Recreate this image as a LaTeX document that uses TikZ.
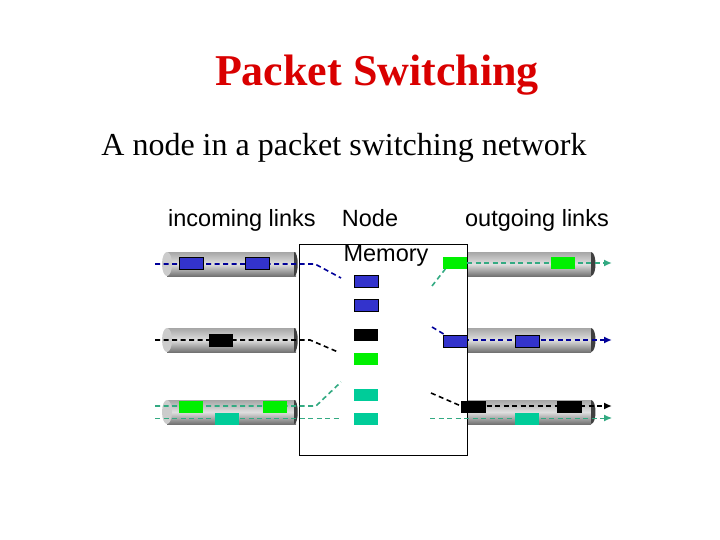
\documentclass[tikz,border=0pt]{standalone}
\usepackage{fontspec}
\setmainfont{Liberation Serif}
\newfontfamily\sansf{Liberation Sans}
\usetikzlibrary{arrows.meta}
\definecolor{pblue}{RGB}{51,51,204}
\definecolor{pgreen}{RGB}{0,240,0}
\definecolor{pteal}{RGB}{0,204,153}
\definecolor{lblue}{RGB}{0,0,153}
\definecolor{lteal}{RGB}{51,170,130}
\begin{document}
\begin{tikzpicture}[x=1pt,y=-1pt,
  cyl/.style={top color=gray!70, bottom color=gray!90!black, middle color=gray!25, draw=none},
  pk/.style={draw=black, line width=0.6pt},
  ln/.style={dashed, line width=1.6pt, dash pattern=on 5pt off 3.5pt},
  arr/.style={ln,-{Latex[length=8pt,width=7pt]}},
  lbl/.style={font=\sansf\fontsize{23.5}{26}\selectfont, inner sep=0}]
\useasboundingbox (0,0) rectangle (720,540);
\node[font=\bfseries\fontsize{44}{46}\selectfont, text=red!85!black] (title) at (377,75) {Packet Switching};
\node[font=\fontsize{32}{34}\selectfont] (sub) at (344,148) {A node in a packet switching network};
\node[lbl] (inc) at (242,220) {incoming links};
\node[lbl] (nd) at (370,218) {Node};
\node[lbl] (out) at (537,220) {outgoing links};
% cylinders
\foreach \y in {252,328,400}{
  \shade[cyl] (167,\y) rectangle (296,\y+24);
  \fill[gray!40] (167,\y+12) ellipse (5 and 12);
  \fill[gray!50!black] (294,\y) .. controls (299,\y) and (299,\y+24) .. (294,\y+24) -- cycle;
}
\foreach \y in {252,328,400}{
  \shade[cyl] (467,\y) rectangle (591,\y+24);
  \fill[gray!50!black] (591,\y) .. controls (597,\y) and (597,\y+24) .. (591,\y+24) -- cycle;
}
% node box
\node[draw, line width=0.8pt, minimum width=168, minimum height=211, anchor=north west, inner sep=0] (box) at (299,244) {};
\node[lbl] (mem) at (386,256) {Memory};
% left lines
\coordinate (b1) at (155,264); \coordinate (b2) at (315,264); \coordinate (b3) at (341,278);
\draw[ln,lblue] (b1) -- (b2) -- (b3);
\coordinate (k1) at (155,340); \coordinate (k2) at (310,340); \coordinate (k3) at (338,352);
\draw[ln,black] (k1) -- (k2) -- (k3);
\coordinate (g1) at (155,406); \coordinate (g2) at (316,406); \coordinate (g3) at (341,382);
\draw[ln,lteal] (g1) -- (g2) -- (g3);
\coordinate (t1) at (155,418); \coordinate (t2) at (341,418);
\draw[ln,lteal,line width=1pt] (t1) -- (t2);
% left packets
\node[pk,fill=pblue,minimum width=24,minimum height=12,inner sep=0] (lp1) at (191,263.5) {};
\node[pk,fill=pblue,minimum width=24,minimum height=12,inner sep=0] (lp2) at (257,263.5) {};
\node[fill=black,minimum width=24,minimum height=13,inner sep=0] (lp3) at (221,340.5) {};
\node[fill=pgreen,minimum width=24,minimum height=12,inner sep=0] (lp4) at (191,407) {};
\node[fill=pgreen,minimum width=24,minimum height=12,inner sep=0] (lp5) at (275,407) {};
\node[fill=pteal,minimum width=24,minimum height=12,inner sep=0] (lp6) at (227,419) {};
% memory
\node[pk,fill=pblue,minimum width=24,minimum height=12,inner sep=0] (m1) at (366,281) {};
\node[pk,fill=pblue,minimum width=24,minimum height=12,inner sep=0] (m2) at (366,305) {};
\node[fill=black,minimum width=24,minimum height=12,inner sep=0] (m3) at (366,335) {};
\node[fill=pgreen,minimum width=24,minimum height=12,inner sep=0] (m4) at (366,359) {};
\node[fill=pteal,minimum width=24,minimum height=12,inner sep=0] (m5) at (366,395) {};
\node[fill=pteal,minimum width=24,minimum height=12,inner sep=0] (m6) at (366,419) {};
% right lines
\coordinate (rg0) at (432,286); \coordinate (rg1) at (450,263); \coordinate (rg2) at (612,263);
\draw[ln,lteal] (rg0) -- (rg1);
\draw[arr,lteal] (rg1) -- (rg2);
\coordinate (rb0) at (432,327); \coordinate (rb1) at (447,336); \coordinate (rb2) at (612,340);
\draw[ln,lblue] (rb0) -- (rb1);
\draw[arr,lblue] (447,340) -- (rb2);
\coordinate (rk0) at (431,393); \coordinate (rk1) at (461,406); \coordinate (rk2) at (612,406);
\draw[ln,black] (rk0) -- (rk1);
\draw[arr,black] (rk1) -- (rk2);
\coordinate (rt0) at (430,418); \coordinate (rt1) at (612,418);
\draw[arr,lteal,line width=1pt] (rt0) -- (rt1);
% right packets
\node[fill=pgreen,minimum width=24,minimum height=12,inner sep=0] (rp1) at (455,263) {};
\node[fill=pgreen,minimum width=24,minimum height=12,inner sep=0] (rp2) at (563,263) {};
\node[pk,fill=pblue,minimum width=24,minimum height=12,inner sep=0] (rp3) at (455,341) {};
\node[pk,fill=pblue,minimum width=24,minimum height=12,inner sep=0] (rp4) at (527,341) {};
\node[fill=black,minimum width=25,minimum height=12,inner sep=0] (rp5) at (473.5,407) {};
\node[fill=black,minimum width=25,minimum height=12,inner sep=0] (rp6) at (569.5,407) {};
\node[fill=pteal,minimum width=24,minimum height=12,inner sep=0] (rp7) at (527,419) {};
\end{tikzpicture}
\end{document}
